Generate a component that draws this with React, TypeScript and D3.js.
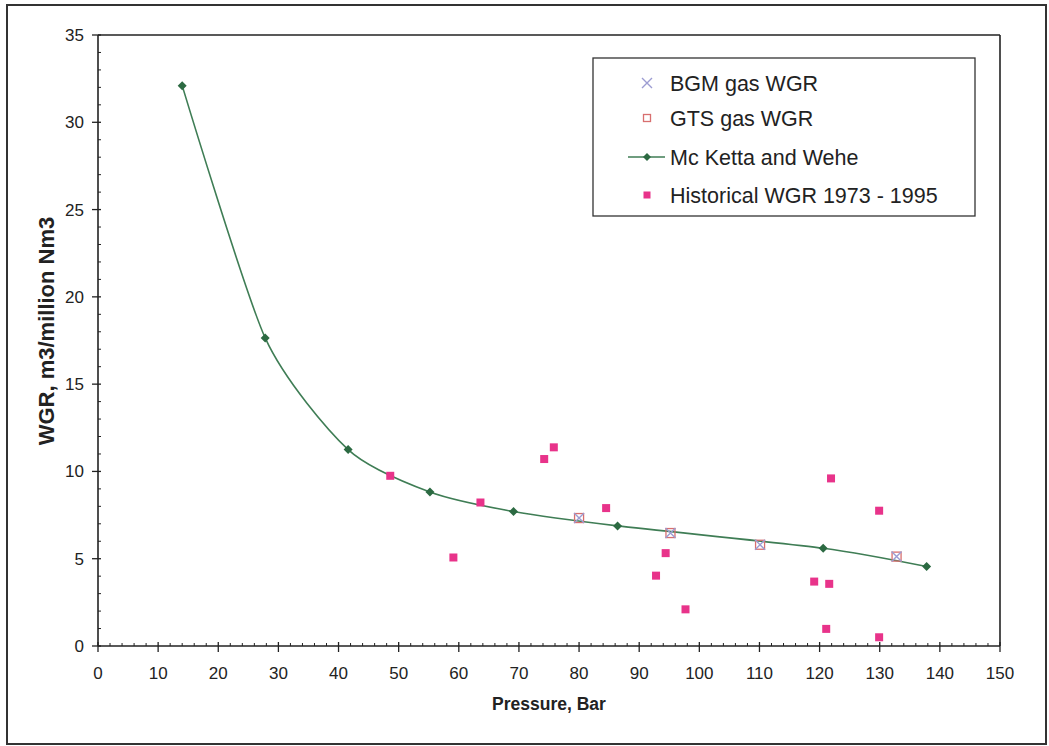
import React from "react";
import * as d3 from "d3";

const W = 1049;
const H = 746;

// McKetta and Wehe curve points
const mcKettaP = [14.0, 27.8, 41.6, 55.2, 69.1, 86.4, 120.6, 137.8];
const mcKettaW = [32.1, 17.65, 11.25, 8.82, 7.7, 6.88, 5.6, 4.55];

// BGM gas WGR
const bgmP = [80.0, 95.2, 110.1, 132.8];
const bgmW = [7.33, 6.47, 5.8, 5.12];

// GTS gas WGR
const gtsP = [80.0, 95.2, 110.1, 132.8];
const gtsW = [7.33, 6.47, 5.8, 5.12];

// Historical WGR 1973 - 1995
const histP = [48.6, 59.1, 63.6, 74.2, 75.8, 84.5, 92.8, 94.4, 97.7, 119.1, 121.1, 121.6, 121.9, 129.9, 129.9];
const histW = [9.75, 5.07, 8.22, 10.71, 11.38, 7.9, 4.03, 5.32, 2.1, 3.69, 0.98, 3.56, 9.6, 7.75, 0.5];

const xTicks = [0, 10, 20, 30, 40, 50, 60, 70, 80, 90, 100, 110, 120, 130, 140, 150];
const yTicks = [0, 5, 10, 15, 20, 25, 30, 35];

const legendLabels = ["BGM gas WGR", "GTS gas WGR", "Mc Ketta and Wehe", "Historical WGR 1973 - 1995"];

const FONT = "'Liberation Sans', Arial, sans-serif";

export default function App() {
  const x = d3.scaleLinear().domain([0, 150]).range([98, 1000]);
  const y = d3.scaleLinear().domain([0, 35]).range([646, 35]);

  const xMinor = d3.range(0, 151, 2).filter((v) => v % 10 !== 0);
  const yMinor = d3.range(0, 36, 1).filter((v) => v % 5 !== 0);

  const curvePts: [number, number][] = mcKettaP.map((p, i) => [x(p), y(mcKettaW[i])]);
  const line = d3.line().curve(d3.curveCardinal.tension(0.3))(curvePts) || "";

  const diamond = (cx: number, cy: number, r: number) =>
    `M${cx},${cy - r}L${cx + r},${cy}L${cx},${cy + r}L${cx - r},${cy}Z`;

  const green = "#3f7d55";
  const greenMark = "#2c6a42";
  const pink = "#e8338a";
  const lav = "#9c9cd2";
  const gtsCol = "#d86f6f";

  const x0 = x(0);
  const y0 = y(0);
  const xEnd = x(150);
  const yTop = y(35);

  const legX = 593, legY = 58, legW = 382, legH = 158;
  const legRows = [83, 118, 157, 195];
  const legMark = 647;
  const legText = 670;

  return (
    <svg width={W} height={H} style={{ position: "absolute", left: 0, top: 0, background: "#fff" }} fontFamily={FONT}>
      <rect x={0} y={0} width={W} height={H} fill="#fff" />
      {/* outer frame */}
      <rect x={7} y={5} width={1039} height={739} fill="none" stroke="#333" strokeWidth={2} />

      {/* plot frame */}
      <line x1={x0} y1={yTop} x2={xEnd} y2={yTop} stroke="#222" strokeWidth={1.6} />
      <line x1={xEnd} y1={yTop} x2={xEnd} y2={y0} stroke="#222" strokeWidth={1.6} />
      <line x1={x0} y1={yTop} x2={x0} y2={y0} stroke="#222" strokeWidth={1.6} />
      <line x1={x0} y1={y0} x2={xEnd} y2={y0} stroke="#222" strokeWidth={1.6} />

      {/* x ticks */}
      {xTicks.map((t) => (
        <g key={"xt" + t}>
          <line x1={x(t)} x2={x(t)} y1={y0 - 4} y2={y0 + 6} stroke="#222" strokeWidth={1.3} />
          <text x={x(t)} y={y0 + 33} fontSize={17} textAnchor="middle" fill="#222">{t}</text>
        </g>
      ))}
      {xMinor.map((t) => (
        <line key={"xm" + t} x1={x(t)} x2={x(t)} y1={y0 - 3} y2={y0} stroke="#222" strokeWidth={1} />
      ))}

      {/* y ticks */}
      {yTicks.map((t) => (
        <g key={"yt" + t}>
          <line x1={x0 - 6} x2={x0 + 3} y1={y(t)} y2={y(t)} stroke="#222" strokeWidth={1.3} />
          <text x={x0 - 14} y={y(t) + 6} fontSize={17} textAnchor="end" fill="#222">{t}</text>
        </g>
      ))}
      {yMinor.map((t) => (
        <line key={"ym" + t} x1={x0} x2={x0 + 3} y1={y(t)} y2={y(t)} stroke="#222" strokeWidth={1} />
      ))}

      {/* axis titles */}
      <text x={(x0 + xEnd) / 2} y={710} fontSize={17.5} fontWeight="bold" textAnchor="middle" fill="#222">
        Pressure, Bar
      </text>
      <text
        transform={`translate(54,331) rotate(-90)`}
        fontSize={22}
        fontWeight="bold"
        textAnchor="middle"
        fill="#222"
      >
        WGR, m3/million Nm3
      </text>

      {/* McKetta line */}
      <path d={line} fill="none" stroke={green} strokeWidth={1.6} />
      {mcKettaP.map((p, i) => (
        <path key={"mk" + i} d={diamond(x(p), y(mcKettaW[i]), 4.5)} fill={greenMark} />
      ))}

      {/* historical */}
      {histP.map((p, i) => (
        <rect key={"h" + i} x={x(p) - 4} y={y(histW[i]) - 4} width={8} height={8} fill={pink} />
      ))}

      {/* GTS squares */}
      {gtsP.map((p, i) => (
        <rect key={"g" + i} x={x(p) - 4.5} y={y(gtsW[i]) - 4.5} width={9} height={9} fill="none" stroke={gtsCol} strokeWidth={1.3} />
      ))}
      {/* BGM crosses */}
      {bgmP.map((p, i) => {
        const cx = x(p), cy = y(bgmW[i]);
        return (
          <path key={"b" + i} d={`M${cx - 5},${cy - 5}L${cx + 5},${cy + 5}M${cx - 5},${cy + 5}L${cx + 5},${cy - 5}`} stroke={lav} strokeWidth={1.4} fill="none" />
        );
      })}

      {/* legend */}
      <rect x={legX} y={legY} width={legW} height={legH} fill="#fff" stroke="#333" strokeWidth={1.3} />
      <path
        d={`M${legMark - 5},${legRows[0] - 5}L${legMark + 5},${legRows[0] + 5}M${legMark - 5},${legRows[0] + 5}L${legMark + 5},${legRows[0] - 5}`}
        stroke={lav}
        strokeWidth={1.4}
        fill="none"
      />
      <rect x={legMark - 3.5} y={legRows[1] - 3.5} width={7} height={7} fill="none" stroke={gtsCol} strokeWidth={1.3} />
      <line x1={628} x2={665} y1={legRows[2]} y2={legRows[2]} stroke={green} strokeWidth={1.6} />
      <path d={diamond(legMark, legRows[2], 4)} fill={greenMark} />
      <rect x={legMark - 3.5} y={legRows[3] - 3.5} width={7} height={7} fill={pink} />
      {legendLabels.map((l, i) => (
        <text key={"ll" + i} x={legText} y={legRows[i] + 7.5} fontSize={21.5} fill="#222">{l}</text>
      ))}
    </svg>
  );
}
